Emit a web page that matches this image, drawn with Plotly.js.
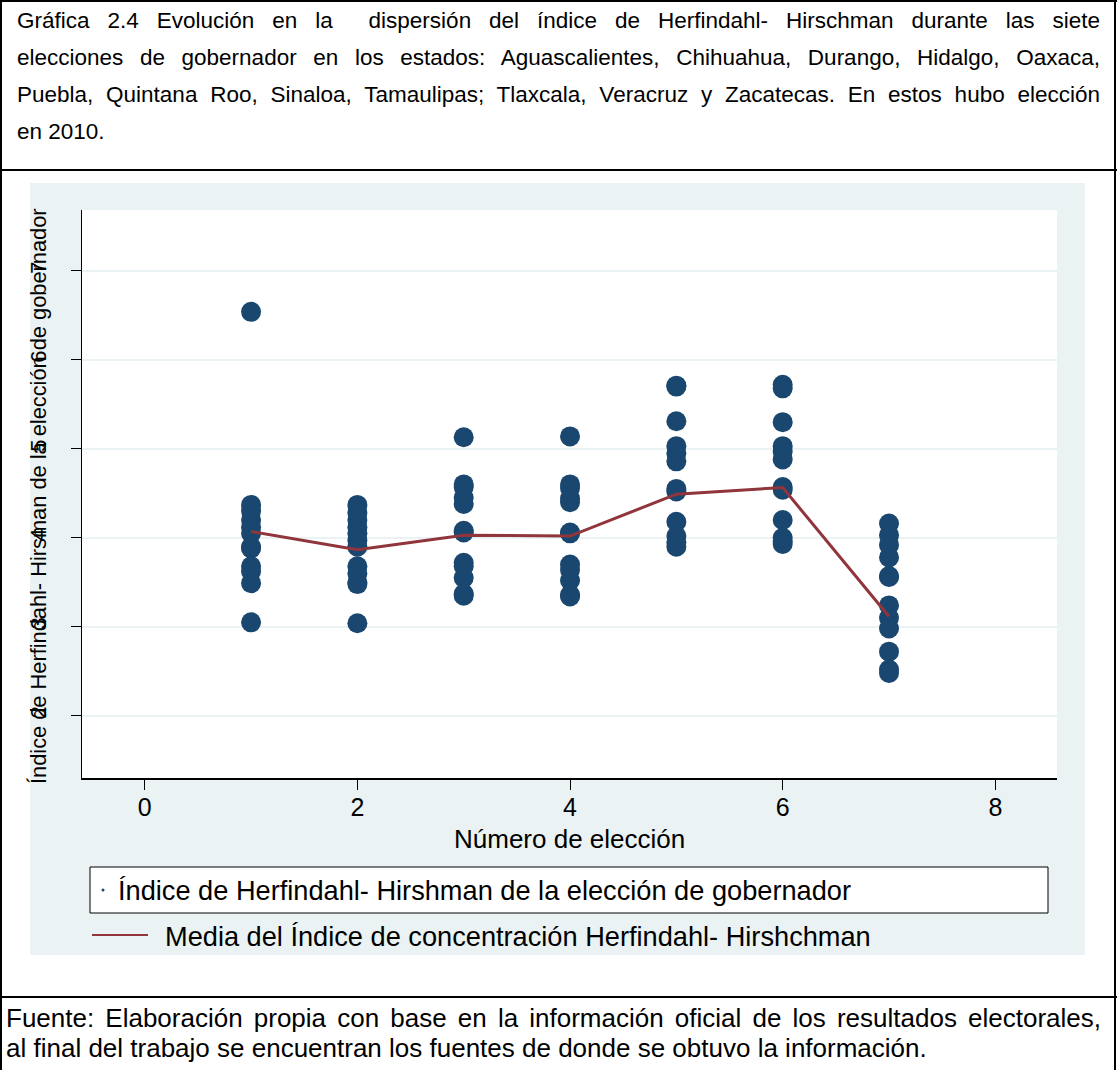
<!DOCTYPE html>
<html>
<head>
<meta charset="utf-8">
<script src="https://cdn.plot.ly/plotly-3.0.1.min.js"></script>
<style>
  html, body { margin:0; padding:0; background:#ffffff; }
  #page { position:relative; width:1117px; height:1070px; overflow:hidden; font-family:"Liberation Sans", Arial, sans-serif; color:#000; }
  .ln { position:absolute; background:#000; }
  .tl { white-space:nowrap; text-align:justify; text-align-last:justify; }
  .tl.last { text-align-last:left; }
  #head { position:absolute; left:17px; top:2px; width:1083px; font-size:22.5px; line-height:37px; }
  #foot { position:absolute; left:6px; top:1003px; width:1095px; font-size:26px; line-height:30px; }
  #bg { position:absolute; left:30px; top:183px; width:1055px; height:772px; background:#EAF2F3; }
  #chart { position:absolute; left:5px; top:175px; width:1105px; height:815px; }
</style>
</head>
<body>
<div id="page">
  <div class="ln" style="left:0;top:0;width:1117px;height:2px"></div>
  <div class="ln" style="left:0;top:0;width:2px;height:1070px"></div>
  <div class="ln" style="left:1114px;top:0;width:2px;height:1070px"></div>
  <div class="ln" style="left:0;top:169px;width:1117px;height:2px"></div>
  <div class="ln" style="left:0;top:996px;width:1117px;height:2px"></div>
  <div id="head">
    <div class="tl">Gráfica 2.4 Evolución en la&nbsp; dispersión del índice de Herfindahl- Hirschman durante las siete</div>
    <div class="tl">elecciones de gobernador en los estados: Aguascalientes, Chihuahua, Durango, Hidalgo, Oaxaca,</div>
    <div class="tl">Puebla, Quintana Roo, Sinaloa, Tamaulipas; Tlaxcala, Veracruz y Zacatecas. En estos hubo elección</div>
    <div class="tl last">en 2010.</div>
  </div>
  <div id="bg"></div>
  <div id="chart"></div>
  <div id="foot">
    <div class="tl">Fuente: Elaboración propia con base en la información oficial de los resultados electorales,</div>
    <div class="tl last">al final del trabajo se encuentran los fuentes de donde se obtuvo la información.</div>
  </div>
</div>
<script>
// Election numbers
const elections = [1, 2, 3, 4, 5, 6, 7];
// Herfindahl-Hirschman index per state (12 states) for each election
const hh1 = [6.54, 4.37, 4.30, 4.20, 4.12, 4.05, 3.90, 3.88, 3.68, 3.62, 3.49, 3.05];
const hh2 = [4.37, 4.28, 4.20, 4.12, 4.05, 3.97, 3.90, 3.68, 3.60, 3.50, 3.48, 3.04];
const hh3 = [5.13, 4.60, 4.57, 4.45, 4.38, 4.08, 4.06, 3.72, 3.68, 3.55, 3.37, 3.35];
const hh4 = [5.14, 4.60, 4.56, 4.44, 4.40, 4.06, 4.05, 3.70, 3.64, 3.52, 3.36, 3.34];
const hh5 = [5.71, 5.70, 5.31, 5.03, 4.95, 4.86, 4.55, 4.52, 4.18, 4.02, 3.95, 3.90];
const hh6 = [5.72, 5.68, 5.30, 5.03, 4.97, 4.88, 4.57, 4.54, 4.20, 4.00, 3.96, 3.93];
const hh7 = [4.16, 4.03, 3.92, 3.78, 3.57, 3.56, 3.24, 3.10, 2.98, 2.72, 2.52, 2.48];
// Mean of the index for each election
const meanHH = [4.07, 3.865, 4.03, 4.02, 4.49, 4.565, 3.115];
// Tick labels
const xTicks = [0, 2, 4, 6, 8];
const yTicks = [2, 3, 4, 5, 6, 7];

const series = [hh1, hh2, hh3, hh4, hh5, hh6, hh7];
const sx = [], sy = [];
series.forEach((vals, i) => vals.forEach(v => { sx.push(elections[i]); sy.push(v); }));

const NAVY = '#1A476F', MAROON = '#90353B', BG = '#EAF2F3';

// chart div origin on the page and plot area in page pixels
const OX = 5, OY = 175, W = 1105, H = 815;
const PL = 82, PR = 1057, PT = 210, PB = 778;
const px = x => (x - PL) / (PR - PL);
const py = y => (PB - y) / (PB - PT);

const traces = [
  { type:'scatter', mode:'markers', x:sx, y:sy, showlegend:false,
    marker:{ color:NAVY, size:20, line:{width:0} } },
  { type:'scatter', mode:'lines', x:elections, y:meanHH, showlegend:false,
    line:{ color:MAROON, width:3 } }
];

const FONT = '"Liberation Sans", Arial, sans-serif';
const layout = {
  width:W, height:H,
  margin:{ l:PL-OX, r:OX+W-PR, t:PT-OY, b:OY+H-PB, pad:0 },
  paper_bgcolor:'rgba(0,0,0,0)', plot_bgcolor:'#ffffff',
  font:{ family:FONT, color:'#000' },
  showlegend:false,
  xaxis:{
    range:[-0.59, 8.58], tickvals:xTicks, ticktext:xTicks.map(String),
    ticks:'outside', ticklen:10, tickwidth:1, tickcolor:'#000',
    showline:true, linecolor:'#000', linewidth:1.5,
    showgrid:false, zeroline:false, ticklabelstandoff:-4,
    tickfont:{ size:25, family:FONT }
  },
  yaxis:{
    range:[1.30, 7.685], tickvals:yTicks, ticktext:yTicks.map(String),
    ticks:'outside', ticklen:10, tickwidth:1, tickcolor:'#000',
    showline:true, linecolor:'#000', linewidth:1.5,
    showgrid:true, gridcolor:BG, gridwidth:2, zeroline:false,
    tickangle:-90, ticklabelstandoff:16,
    tickfont:{ size:22, family:FONT }
  },
  shapes:[
    { type:'rect', xref:'paper', yref:'paper', x0:px(90), x1:px(1048), y0:py(867), y1:py(913),
      fillcolor:'#ffffff', line:{ color:'#000', width:1 }, layer:'above' },
    { type:'circle', xref:'paper', yref:'paper', x0:px(101.5), x1:px(104.5), y0:py(888.5), y1:py(891.5),
      fillcolor:NAVY, line:{ width:0 } },
    { type:'line', xref:'paper', yref:'paper', x0:px(92), x1:px(148), y0:py(935), y1:py(935),
      line:{ color:MAROON, width:2 } }
  ],
  annotations:[
    { text:'Número de elección',
      xref:'paper', yref:'paper', x:0.5, y:py(839), xanchor:'center', yanchor:'middle',
      showarrow:false, font:{ size:26, family:FONT } },
    { text:'Índice de Herfindahl- Hirsman de la elección de gobernador', textangle:-90,
      xref:'paper', yref:'paper', x:px(38), y:py(496), xanchor:'center', yanchor:'middle',
      showarrow:false, font:{ size:21.8, family:FONT } },
    { text:'Índice de Herfindahl- Hirshman de la elección de gobernador',
      xref:'paper', yref:'paper', x:px(116), y:py(890), xanchor:'left', yanchor:'middle',
      showarrow:false, font:{ size:27.2, family:FONT } },
    { text:'Media del Índice de concentración Herfindahl- Hirshchman',
      xref:'paper', yref:'paper', x:px(163), y:py(936), xanchor:'left', yanchor:'middle',
      showarrow:false, font:{ size:27.2, family:FONT } }
  ]
};

Plotly.newPlot('chart', traces, layout, { staticPlot:true, displayModeBar:false });
</script>
</body>
</html>
